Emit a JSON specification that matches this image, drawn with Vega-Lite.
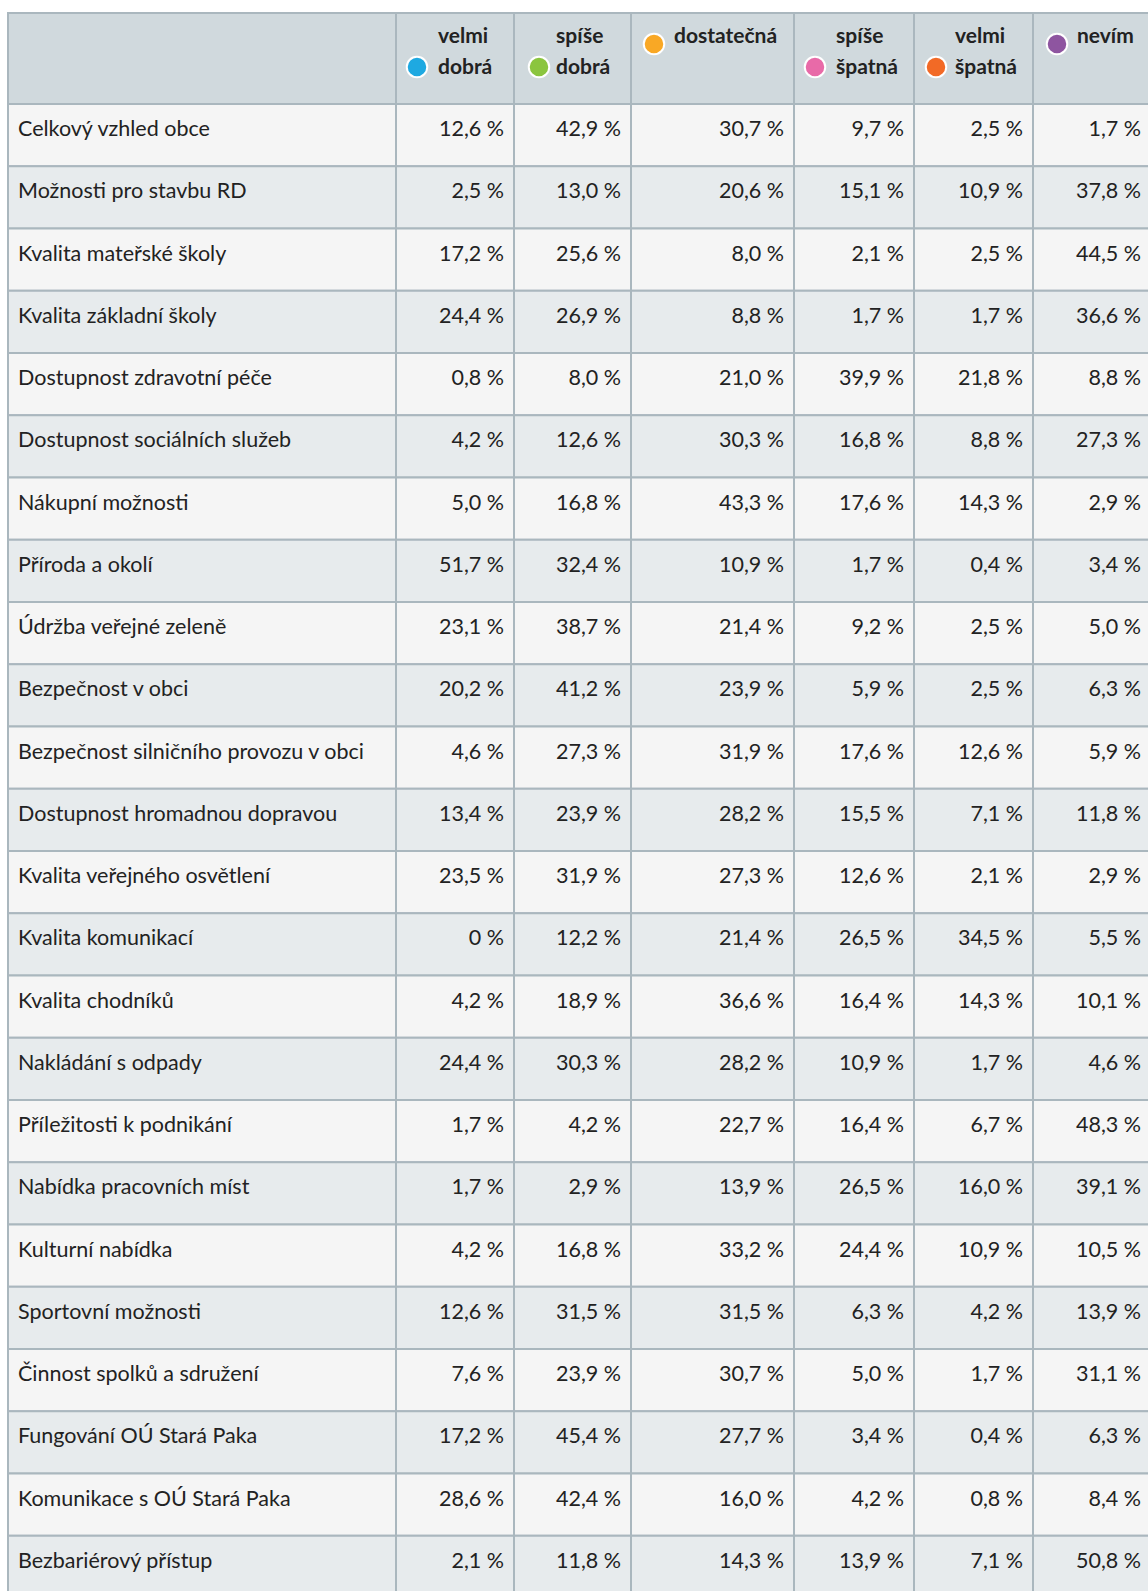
{
  "$schema": "https://vega.github.io/schema/vega-lite/v6.json",
  "padding": {"left": 7, "top": 12, "right": 0, "bottom": 0},
  "bounds": "flush",
  "spacing": 0,
  "columns": 7,
  "align": "each",
  "config": {"view": {"stroke": null}, "font": "Lato", "text": {"font": "Lato"}},
  "datasets": {
    "cats": [
      {"rating": "velmi dobrá", "lines": ["velmi", "dobrá"]},
      {"rating": "spíše dobrá", "lines": ["spíše", "dobrá"]},
      {"rating": "dostatečná", "lines": ["dostatečná"]},
      {"rating": "spíše špatná", "lines": ["spíše", "špatná"]},
      {"rating": "velmi špatná", "lines": ["velmi", "špatná"]},
      {"rating": "nevím", "lines": ["nevím"]}
    ],
    "cells": [
      {"item": "Celkový vzhled obce", "rating": "velmi dobrá", "pct": 12.6},
      {"item": "Celkový vzhled obce", "rating": "spíše dobrá", "pct": 42.9},
      {"item": "Celkový vzhled obce", "rating": "dostatečná", "pct": 30.7},
      {"item": "Celkový vzhled obce", "rating": "spíše špatná", "pct": 9.7},
      {"item": "Celkový vzhled obce", "rating": "velmi špatná", "pct": 2.5},
      {"item": "Celkový vzhled obce", "rating": "nevím", "pct": 1.7},
      {"item": "Možnosti pro stavbu RD", "rating": "velmi dobrá", "pct": 2.5},
      {"item": "Možnosti pro stavbu RD", "rating": "spíše dobrá", "pct": 13.0},
      {"item": "Možnosti pro stavbu RD", "rating": "dostatečná", "pct": 20.6},
      {"item": "Možnosti pro stavbu RD", "rating": "spíše špatná", "pct": 15.1},
      {"item": "Možnosti pro stavbu RD", "rating": "velmi špatná", "pct": 10.9},
      {"item": "Možnosti pro stavbu RD", "rating": "nevím", "pct": 37.8},
      {"item": "Kvalita mateřské školy", "rating": "velmi dobrá", "pct": 17.2},
      {"item": "Kvalita mateřské školy", "rating": "spíše dobrá", "pct": 25.6},
      {"item": "Kvalita mateřské školy", "rating": "dostatečná", "pct": 8.0},
      {"item": "Kvalita mateřské školy", "rating": "spíše špatná", "pct": 2.1},
      {"item": "Kvalita mateřské školy", "rating": "velmi špatná", "pct": 2.5},
      {"item": "Kvalita mateřské školy", "rating": "nevím", "pct": 44.5},
      {"item": "Kvalita základní školy", "rating": "velmi dobrá", "pct": 24.4},
      {"item": "Kvalita základní školy", "rating": "spíše dobrá", "pct": 26.9},
      {"item": "Kvalita základní školy", "rating": "dostatečná", "pct": 8.8},
      {"item": "Kvalita základní školy", "rating": "spíše špatná", "pct": 1.7},
      {"item": "Kvalita základní školy", "rating": "velmi špatná", "pct": 1.7},
      {"item": "Kvalita základní školy", "rating": "nevím", "pct": 36.6},
      {"item": "Dostupnost zdravotní péče", "rating": "velmi dobrá", "pct": 0.8},
      {"item": "Dostupnost zdravotní péče", "rating": "spíše dobrá", "pct": 8.0},
      {"item": "Dostupnost zdravotní péče", "rating": "dostatečná", "pct": 21.0},
      {"item": "Dostupnost zdravotní péče", "rating": "spíše špatná", "pct": 39.9},
      {"item": "Dostupnost zdravotní péče", "rating": "velmi špatná", "pct": 21.8},
      {"item": "Dostupnost zdravotní péče", "rating": "nevím", "pct": 8.8},
      {"item": "Dostupnost sociálních služeb", "rating": "velmi dobrá", "pct": 4.2},
      {"item": "Dostupnost sociálních služeb", "rating": "spíše dobrá", "pct": 12.6},
      {"item": "Dostupnost sociálních služeb", "rating": "dostatečná", "pct": 30.3},
      {"item": "Dostupnost sociálních služeb", "rating": "spíše špatná", "pct": 16.8},
      {"item": "Dostupnost sociálních služeb", "rating": "velmi špatná", "pct": 8.8},
      {"item": "Dostupnost sociálních služeb", "rating": "nevím", "pct": 27.3},
      {"item": "Nákupní možnosti", "rating": "velmi dobrá", "pct": 5.0},
      {"item": "Nákupní možnosti", "rating": "spíše dobrá", "pct": 16.8},
      {"item": "Nákupní možnosti", "rating": "dostatečná", "pct": 43.3},
      {"item": "Nákupní možnosti", "rating": "spíše špatná", "pct": 17.6},
      {"item": "Nákupní možnosti", "rating": "velmi špatná", "pct": 14.3},
      {"item": "Nákupní možnosti", "rating": "nevím", "pct": 2.9},
      {"item": "Příroda a okolí", "rating": "velmi dobrá", "pct": 51.7},
      {"item": "Příroda a okolí", "rating": "spíše dobrá", "pct": 32.4},
      {"item": "Příroda a okolí", "rating": "dostatečná", "pct": 10.9},
      {"item": "Příroda a okolí", "rating": "spíše špatná", "pct": 1.7},
      {"item": "Příroda a okolí", "rating": "velmi špatná", "pct": 0.4},
      {"item": "Příroda a okolí", "rating": "nevím", "pct": 3.4},
      {"item": "Údržba veřejné zeleně", "rating": "velmi dobrá", "pct": 23.1},
      {"item": "Údržba veřejné zeleně", "rating": "spíše dobrá", "pct": 38.7},
      {"item": "Údržba veřejné zeleně", "rating": "dostatečná", "pct": 21.4},
      {"item": "Údržba veřejné zeleně", "rating": "spíše špatná", "pct": 9.2},
      {"item": "Údržba veřejné zeleně", "rating": "velmi špatná", "pct": 2.5},
      {"item": "Údržba veřejné zeleně", "rating": "nevím", "pct": 5.0},
      {"item": "Bezpečnost v obci", "rating": "velmi dobrá", "pct": 20.2},
      {"item": "Bezpečnost v obci", "rating": "spíše dobrá", "pct": 41.2},
      {"item": "Bezpečnost v obci", "rating": "dostatečná", "pct": 23.9},
      {"item": "Bezpečnost v obci", "rating": "spíše špatná", "pct": 5.9},
      {"item": "Bezpečnost v obci", "rating": "velmi špatná", "pct": 2.5},
      {"item": "Bezpečnost v obci", "rating": "nevím", "pct": 6.3},
      {"item": "Bezpečnost silničního provozu v obci", "rating": "velmi dobrá", "pct": 4.6},
      {"item": "Bezpečnost silničního provozu v obci", "rating": "spíše dobrá", "pct": 27.3},
      {"item": "Bezpečnost silničního provozu v obci", "rating": "dostatečná", "pct": 31.9},
      {"item": "Bezpečnost silničního provozu v obci", "rating": "spíše špatná", "pct": 17.6},
      {"item": "Bezpečnost silničního provozu v obci", "rating": "velmi špatná", "pct": 12.6},
      {"item": "Bezpečnost silničního provozu v obci", "rating": "nevím", "pct": 5.9},
      {"item": "Dostupnost hromadnou dopravou", "rating": "velmi dobrá", "pct": 13.4},
      {"item": "Dostupnost hromadnou dopravou", "rating": "spíše dobrá", "pct": 23.9},
      {"item": "Dostupnost hromadnou dopravou", "rating": "dostatečná", "pct": 28.2},
      {"item": "Dostupnost hromadnou dopravou", "rating": "spíše špatná", "pct": 15.5},
      {"item": "Dostupnost hromadnou dopravou", "rating": "velmi špatná", "pct": 7.1},
      {"item": "Dostupnost hromadnou dopravou", "rating": "nevím", "pct": 11.8},
      {"item": "Kvalita veřejného osvětlení", "rating": "velmi dobrá", "pct": 23.5},
      {"item": "Kvalita veřejného osvětlení", "rating": "spíše dobrá", "pct": 31.9},
      {"item": "Kvalita veřejného osvětlení", "rating": "dostatečná", "pct": 27.3},
      {"item": "Kvalita veřejného osvětlení", "rating": "spíše špatná", "pct": 12.6},
      {"item": "Kvalita veřejného osvětlení", "rating": "velmi špatná", "pct": 2.1},
      {"item": "Kvalita veřejného osvětlení", "rating": "nevím", "pct": 2.9},
      {"item": "Kvalita komunikací", "rating": "velmi dobrá", "pct": 0},
      {"item": "Kvalita komunikací", "rating": "spíše dobrá", "pct": 12.2},
      {"item": "Kvalita komunikací", "rating": "dostatečná", "pct": 21.4},
      {"item": "Kvalita komunikací", "rating": "spíše špatná", "pct": 26.5},
      {"item": "Kvalita komunikací", "rating": "velmi špatná", "pct": 34.5},
      {"item": "Kvalita komunikací", "rating": "nevím", "pct": 5.5},
      {"item": "Kvalita chodníků", "rating": "velmi dobrá", "pct": 4.2},
      {"item": "Kvalita chodníků", "rating": "spíše dobrá", "pct": 18.9},
      {"item": "Kvalita chodníků", "rating": "dostatečná", "pct": 36.6},
      {"item": "Kvalita chodníků", "rating": "spíše špatná", "pct": 16.4},
      {"item": "Kvalita chodníků", "rating": "velmi špatná", "pct": 14.3},
      {"item": "Kvalita chodníků", "rating": "nevím", "pct": 10.1},
      {"item": "Nakládání s odpady", "rating": "velmi dobrá", "pct": 24.4},
      {"item": "Nakládání s odpady", "rating": "spíše dobrá", "pct": 30.3},
      {"item": "Nakládání s odpady", "rating": "dostatečná", "pct": 28.2},
      {"item": "Nakládání s odpady", "rating": "spíše špatná", "pct": 10.9},
      {"item": "Nakládání s odpady", "rating": "velmi špatná", "pct": 1.7},
      {"item": "Nakládání s odpady", "rating": "nevím", "pct": 4.6},
      {"item": "Příležitosti k podnikání", "rating": "velmi dobrá", "pct": 1.7},
      {"item": "Příležitosti k podnikání", "rating": "spíše dobrá", "pct": 4.2},
      {"item": "Příležitosti k podnikání", "rating": "dostatečná", "pct": 22.7},
      {"item": "Příležitosti k podnikání", "rating": "spíše špatná", "pct": 16.4},
      {"item": "Příležitosti k podnikání", "rating": "velmi špatná", "pct": 6.7},
      {"item": "Příležitosti k podnikání", "rating": "nevím", "pct": 48.3},
      {"item": "Nabídka pracovních míst", "rating": "velmi dobrá", "pct": 1.7},
      {"item": "Nabídka pracovních míst", "rating": "spíše dobrá", "pct": 2.9},
      {"item": "Nabídka pracovních míst", "rating": "dostatečná", "pct": 13.9},
      {"item": "Nabídka pracovních míst", "rating": "spíše špatná", "pct": 26.5},
      {"item": "Nabídka pracovních míst", "rating": "velmi špatná", "pct": 16.0},
      {"item": "Nabídka pracovních míst", "rating": "nevím", "pct": 39.1},
      {"item": "Kulturní nabídka", "rating": "velmi dobrá", "pct": 4.2},
      {"item": "Kulturní nabídka", "rating": "spíše dobrá", "pct": 16.8},
      {"item": "Kulturní nabídka", "rating": "dostatečná", "pct": 33.2},
      {"item": "Kulturní nabídka", "rating": "spíše špatná", "pct": 24.4},
      {"item": "Kulturní nabídka", "rating": "velmi špatná", "pct": 10.9},
      {"item": "Kulturní nabídka", "rating": "nevím", "pct": 10.5},
      {"item": "Sportovní možnosti", "rating": "velmi dobrá", "pct": 12.6},
      {"item": "Sportovní možnosti", "rating": "spíše dobrá", "pct": 31.5},
      {"item": "Sportovní možnosti", "rating": "dostatečná", "pct": 31.5},
      {"item": "Sportovní možnosti", "rating": "spíše špatná", "pct": 6.3},
      {"item": "Sportovní možnosti", "rating": "velmi špatná", "pct": 4.2},
      {"item": "Sportovní možnosti", "rating": "nevím", "pct": 13.9},
      {"item": "Činnost spolků a sdružení", "rating": "velmi dobrá", "pct": 7.6},
      {"item": "Činnost spolků a sdružení", "rating": "spíše dobrá", "pct": 23.9},
      {"item": "Činnost spolků a sdružení", "rating": "dostatečná", "pct": 30.7},
      {"item": "Činnost spolků a sdružení", "rating": "spíše špatná", "pct": 5.0},
      {"item": "Činnost spolků a sdružení", "rating": "velmi špatná", "pct": 1.7},
      {"item": "Činnost spolků a sdružení", "rating": "nevím", "pct": 31.1},
      {"item": "Fungování OÚ Stará Paka", "rating": "velmi dobrá", "pct": 17.2},
      {"item": "Fungování OÚ Stará Paka", "rating": "spíše dobrá", "pct": 45.4},
      {"item": "Fungování OÚ Stará Paka", "rating": "dostatečná", "pct": 27.7},
      {"item": "Fungování OÚ Stará Paka", "rating": "spíše špatná", "pct": 3.4},
      {"item": "Fungování OÚ Stará Paka", "rating": "velmi špatná", "pct": 0.4},
      {"item": "Fungování OÚ Stará Paka", "rating": "nevím", "pct": 6.3},
      {"item": "Komunikace s OÚ Stará Paka", "rating": "velmi dobrá", "pct": 28.6},
      {"item": "Komunikace s OÚ Stará Paka", "rating": "spíše dobrá", "pct": 42.4},
      {"item": "Komunikace s OÚ Stará Paka", "rating": "dostatečná", "pct": 16.0},
      {"item": "Komunikace s OÚ Stará Paka", "rating": "spíše špatná", "pct": 4.2},
      {"item": "Komunikace s OÚ Stará Paka", "rating": "velmi špatná", "pct": 0.8},
      {"item": "Komunikace s OÚ Stará Paka", "rating": "nevím", "pct": 8.4},
      {"item": "Bezbariérový přístup", "rating": "velmi dobrá", "pct": 2.1},
      {"item": "Bezbariérový přístup", "rating": "spíše dobrá", "pct": 11.8},
      {"item": "Bezbariérový přístup", "rating": "dostatečná", "pct": 14.3},
      {"item": "Bezbariérový přístup", "rating": "spíše špatná", "pct": 13.9},
      {"item": "Bezbariérový přístup", "rating": "velmi špatná", "pct": 7.1},
      {"item": "Bezbariérový přístup", "rating": "nevím", "pct": 50.8}
    ]
  },
  "concat": [
    {"width": 388, "height": 91, "view": {"fill": "#d0d9dd", "stroke": "#aab7be", "strokeWidth": 2},
     "data": {"name": "cats"}, "transform": [{"filter": "datum.rating === 'velmi dobrá'"}],
     "mark": {"type": "text", "opacity": 0}, "encoding": {"text": {"field": "rating"}}},
    {"width": 118, "height": 91, "view": {"fill": "#d0d9dd", "stroke": "#aab7be", "strokeWidth": 2},
     "data": {"name": "cats"}, "transform": [{"filter": "datum.rating === 'velmi dobrá'"}],
     "layer": [
       {"mark": {"type": "point", "shape": "circle", "filled": true, "opacity": 1, "size": 420, "stroke": "white", "strokeWidth": 2, "x": 21, "y": 54},
        "encoding": {"color": {"field": "rating", "type": "nominal", "legend": null, "scale": {"domain": ["velmi dobrá", "spíše dobrá", "dostatečná", "spíše špatná", "velmi špatná", "nevím"], "range": ["#1ea9e1", "#8bc53f", "#f9a825", "#e86aa8", "#f26a26", "#8e55a0"]}}}},
       {"mark": {"type": "text", "align": "left", "baseline": "middle", "x": 42, "y": 24, "lineHeight": 30.5, "fontSize": 21, "fontWeight": "bold", "color": "#222222"},
        "encoding": {"text": {"field": "lines"}}}
     ]},
    {"width": 117, "height": 91, "view": {"fill": "#d0d9dd", "stroke": "#aab7be", "strokeWidth": 2},
     "data": {"name": "cats"}, "transform": [{"filter": "datum.rating === 'spíše dobrá'"}],
     "layer": [
       {"mark": {"type": "point", "shape": "circle", "filled": true, "opacity": 1, "size": 420, "stroke": "white", "strokeWidth": 2, "x": 25, "y": 54},
        "encoding": {"color": {"field": "rating", "type": "nominal", "legend": null, "scale": {"domain": ["velmi dobrá", "spíše dobrá", "dostatečná", "spíše špatná", "velmi špatná", "nevím"], "range": ["#1ea9e1", "#8bc53f", "#f9a825", "#e86aa8", "#f26a26", "#8e55a0"]}}}},
       {"mark": {"type": "text", "align": "left", "baseline": "middle", "x": 42, "y": 24, "lineHeight": 30.5, "fontSize": 21, "fontWeight": "bold", "color": "#222222"},
        "encoding": {"text": {"field": "lines"}}}
     ]},
    {"width": 163, "height": 91, "view": {"fill": "#d0d9dd", "stroke": "#aab7be", "strokeWidth": 2},
     "data": {"name": "cats"}, "transform": [{"filter": "datum.rating === 'dostatečná'"}],
     "layer": [
       {"mark": {"type": "point", "shape": "circle", "filled": true, "opacity": 1, "size": 420, "stroke": "white", "strokeWidth": 2, "x": 23, "y": 31},
        "encoding": {"color": {"field": "rating", "type": "nominal", "legend": null, "scale": {"domain": ["velmi dobrá", "spíše dobrá", "dostatečná", "spíše špatná", "velmi špatná", "nevím"], "range": ["#1ea9e1", "#8bc53f", "#f9a825", "#e86aa8", "#f26a26", "#8e55a0"]}}}},
       {"mark": {"type": "text", "align": "left", "baseline": "middle", "x": 43, "y": 24, "lineHeight": 30.5, "fontSize": 21, "fontWeight": "bold", "color": "#222222"},
        "encoding": {"text": {"field": "lines"}}}
     ]},
    {"width": 120, "height": 91, "view": {"fill": "#d0d9dd", "stroke": "#aab7be", "strokeWidth": 2},
     "data": {"name": "cats"}, "transform": [{"filter": "datum.rating === 'spíše špatná'"}],
     "layer": [
       {"mark": {"type": "point", "shape": "circle", "filled": true, "opacity": 1, "size": 420, "stroke": "white", "strokeWidth": 2, "x": 21, "y": 54},
        "encoding": {"color": {"field": "rating", "type": "nominal", "legend": null, "scale": {"domain": ["velmi dobrá", "spíše dobrá", "dostatečná", "spíše špatná", "velmi špatná", "nevím"], "range": ["#1ea9e1", "#8bc53f", "#f9a825", "#e86aa8", "#f26a26", "#8e55a0"]}}}},
       {"mark": {"type": "text", "align": "left", "baseline": "middle", "x": 42, "y": 24, "lineHeight": 30.5, "fontSize": 21, "fontWeight": "bold", "color": "#222222"},
        "encoding": {"text": {"field": "lines"}}}
     ]},
    {"width": 119, "height": 91, "view": {"fill": "#d0d9dd", "stroke": "#aab7be", "strokeWidth": 2},
     "data": {"name": "cats"}, "transform": [{"filter": "datum.rating === 'velmi špatná'"}],
     "layer": [
       {"mark": {"type": "point", "shape": "circle", "filled": true, "opacity": 1, "size": 420, "stroke": "white", "strokeWidth": 2, "x": 22, "y": 54},
        "encoding": {"color": {"field": "rating", "type": "nominal", "legend": null, "scale": {"domain": ["velmi dobrá", "spíše dobrá", "dostatečná", "spíše špatná", "velmi špatná", "nevím"], "range": ["#1ea9e1", "#8bc53f", "#f9a825", "#e86aa8", "#f26a26", "#8e55a0"]}}}},
       {"mark": {"type": "text", "align": "left", "baseline": "middle", "x": 41, "y": 24, "lineHeight": 30.5, "fontSize": 21, "fontWeight": "bold", "color": "#222222"},
        "encoding": {"text": {"field": "lines"}}}
     ]},
    {"width": 118, "height": 91, "view": {"fill": "#d0d9dd", "stroke": "#aab7be", "strokeWidth": 2},
     "data": {"name": "cats"}, "transform": [{"filter": "datum.rating === 'nevím'"}],
     "layer": [
       {"mark": {"type": "point", "shape": "circle", "filled": true, "opacity": 1, "size": 420, "stroke": "white", "strokeWidth": 2, "x": 24, "y": 31},
        "encoding": {"color": {"field": "rating", "type": "nominal", "legend": null, "scale": {"domain": ["velmi dobrá", "spíše dobrá", "dostatečná", "spíše špatná", "velmi špatná", "nevím"], "range": ["#1ea9e1", "#8bc53f", "#f9a825", "#e86aa8", "#f26a26", "#8e55a0"]}}}},
       {"mark": {"type": "text", "align": "left", "baseline": "middle", "x": 44, "y": 24, "lineHeight": 30.5, "fontSize": 21, "fontWeight": "bold", "color": "#222222"},
        "encoding": {"text": {"field": "lines"}}}
     ]},
    {"width": 388, "height": 1494, "data": {"name": "cells"},
     "transform": [{"filter": "datum.rating === 'velmi dobrá'"}, {"window": [{"op": "row_number", "as": "rn"}]}],
     "layer": [
       {"mark": {"type": "rect", "x": 0, "x2": "width", "stroke": "#aab7be", "strokeWidth": 2},
        "encoding": {"y": {"field": "item", "type": "nominal", "sort": null, "axis": null, "scale": {"paddingInner": 0, "paddingOuter": 0}},
                     "fill": {"condition": {"test": "datum.rn % 2 === 0", "value": "#e7ebed"}, "value": "#f5f5f5"}}},
       {"mark": {"type": "text", "align": "left", "baseline": "middle", "x": 0, "dx": 10, "fontSize": 21.5, "color": "#222222"},
        "encoding": {"y": {"field": "item", "type": "nominal", "sort": null, "axis": null, "bandPosition": 0.42}, "text": {"field": "item"}}}
     ]},
    {"width": 118, "height": 1494, "data": {"name": "cells"},
     "transform": [{"filter": "datum.rating === 'velmi dobrá'"}, {"window": [{"op": "row_number", "as": "rn"}]}, {"calculate": "datum.pct === 0 ? '0 %' : replace(format(datum.pct, '.1f'), '.', ',') + ' %'", "as": "label"}],
     "layer": [
       {"mark": {"type": "rect", "x": 0, "x2": "width", "stroke": "#aab7be", "strokeWidth": 2},
        "encoding": {"y": {"field": "item", "type": "nominal", "sort": null, "axis": null, "scale": {"paddingInner": 0, "paddingOuter": 0}},
                     "fill": {"condition": {"test": "datum.rn % 2 === 0", "value": "#e7ebed"}, "value": "#f5f5f5"}}},
       {"mark": {"type": "text", "align": "right", "baseline": "middle", "x": "width", "dx": -10, "fontSize": 21.5, "color": "#222222"},
        "encoding": {"y": {"field": "item", "type": "nominal", "sort": null, "axis": null, "bandPosition": 0.42}, "text": {"field": "label"}}}
     ]},
    {"width": 117, "height": 1494, "data": {"name": "cells"},
     "transform": [{"filter": "datum.rating === 'spíše dobrá'"}, {"window": [{"op": "row_number", "as": "rn"}]}, {"calculate": "datum.pct === 0 ? '0 %' : replace(format(datum.pct, '.1f'), '.', ',') + ' %'", "as": "label"}],
     "layer": [
       {"mark": {"type": "rect", "x": 0, "x2": "width", "stroke": "#aab7be", "strokeWidth": 2},
        "encoding": {"y": {"field": "item", "type": "nominal", "sort": null, "axis": null, "scale": {"paddingInner": 0, "paddingOuter": 0}},
                     "fill": {"condition": {"test": "datum.rn % 2 === 0", "value": "#e7ebed"}, "value": "#f5f5f5"}}},
       {"mark": {"type": "text", "align": "right", "baseline": "middle", "x": "width", "dx": -10, "fontSize": 21.5, "color": "#222222"},
        "encoding": {"y": {"field": "item", "type": "nominal", "sort": null, "axis": null, "bandPosition": 0.42}, "text": {"field": "label"}}}
     ]},
    {"width": 163, "height": 1494, "data": {"name": "cells"},
     "transform": [{"filter": "datum.rating === 'dostatečná'"}, {"window": [{"op": "row_number", "as": "rn"}]}, {"calculate": "datum.pct === 0 ? '0 %' : replace(format(datum.pct, '.1f'), '.', ',') + ' %'", "as": "label"}],
     "layer": [
       {"mark": {"type": "rect", "x": 0, "x2": "width", "stroke": "#aab7be", "strokeWidth": 2},
        "encoding": {"y": {"field": "item", "type": "nominal", "sort": null, "axis": null, "scale": {"paddingInner": 0, "paddingOuter": 0}},
                     "fill": {"condition": {"test": "datum.rn % 2 === 0", "value": "#e7ebed"}, "value": "#f5f5f5"}}},
       {"mark": {"type": "text", "align": "right", "baseline": "middle", "x": "width", "dx": -10, "fontSize": 21.5, "color": "#222222"},
        "encoding": {"y": {"field": "item", "type": "nominal", "sort": null, "axis": null, "bandPosition": 0.42}, "text": {"field": "label"}}}
     ]},
    {"width": 120, "height": 1494, "data": {"name": "cells"},
     "transform": [{"filter": "datum.rating === 'spíše špatná'"}, {"window": [{"op": "row_number", "as": "rn"}]}, {"calculate": "datum.pct === 0 ? '0 %' : replace(format(datum.pct, '.1f'), '.', ',') + ' %'", "as": "label"}],
     "layer": [
       {"mark": {"type": "rect", "x": 0, "x2": "width", "stroke": "#aab7be", "strokeWidth": 2},
        "encoding": {"y": {"field": "item", "type": "nominal", "sort": null, "axis": null, "scale": {"paddingInner": 0, "paddingOuter": 0}},
                     "fill": {"condition": {"test": "datum.rn % 2 === 0", "value": "#e7ebed"}, "value": "#f5f5f5"}}},
       {"mark": {"type": "text", "align": "right", "baseline": "middle", "x": "width", "dx": -10, "fontSize": 21.5, "color": "#222222"},
        "encoding": {"y": {"field": "item", "type": "nominal", "sort": null, "axis": null, "bandPosition": 0.42}, "text": {"field": "label"}}}
     ]},
    {"width": 119, "height": 1494, "data": {"name": "cells"},
     "transform": [{"filter": "datum.rating === 'velmi špatná'"}, {"window": [{"op": "row_number", "as": "rn"}]}, {"calculate": "datum.pct === 0 ? '0 %' : replace(format(datum.pct, '.1f'), '.', ',') + ' %'", "as": "label"}],
     "layer": [
       {"mark": {"type": "rect", "x": 0, "x2": "width", "stroke": "#aab7be", "strokeWidth": 2},
        "encoding": {"y": {"field": "item", "type": "nominal", "sort": null, "axis": null, "scale": {"paddingInner": 0, "paddingOuter": 0}},
                     "fill": {"condition": {"test": "datum.rn % 2 === 0", "value": "#e7ebed"}, "value": "#f5f5f5"}}},
       {"mark": {"type": "text", "align": "right", "baseline": "middle", "x": "width", "dx": -10, "fontSize": 21.5, "color": "#222222"},
        "encoding": {"y": {"field": "item", "type": "nominal", "sort": null, "axis": null, "bandPosition": 0.42}, "text": {"field": "label"}}}
     ]},
    {"width": 118, "height": 1494, "data": {"name": "cells"},
     "transform": [{"filter": "datum.rating === 'nevím'"}, {"window": [{"op": "row_number", "as": "rn"}]}, {"calculate": "datum.pct === 0 ? '0 %' : replace(format(datum.pct, '.1f'), '.', ',') + ' %'", "as": "label"}],
     "layer": [
       {"mark": {"type": "rect", "x": 0, "x2": "width", "stroke": "#aab7be", "strokeWidth": 2},
        "encoding": {"y": {"field": "item", "type": "nominal", "sort": null, "axis": null, "scale": {"paddingInner": 0, "paddingOuter": 0}},
                     "fill": {"condition": {"test": "datum.rn % 2 === 0", "value": "#e7ebed"}, "value": "#f5f5f5"}}},
       {"mark": {"type": "text", "align": "right", "baseline": "middle", "x": "width", "dx": -10, "fontSize": 21.5, "color": "#222222"},
        "encoding": {"y": {"field": "item", "type": "nominal", "sort": null, "axis": null, "bandPosition": 0.42}, "text": {"field": "label"}}}
     ]}
  ]
}
